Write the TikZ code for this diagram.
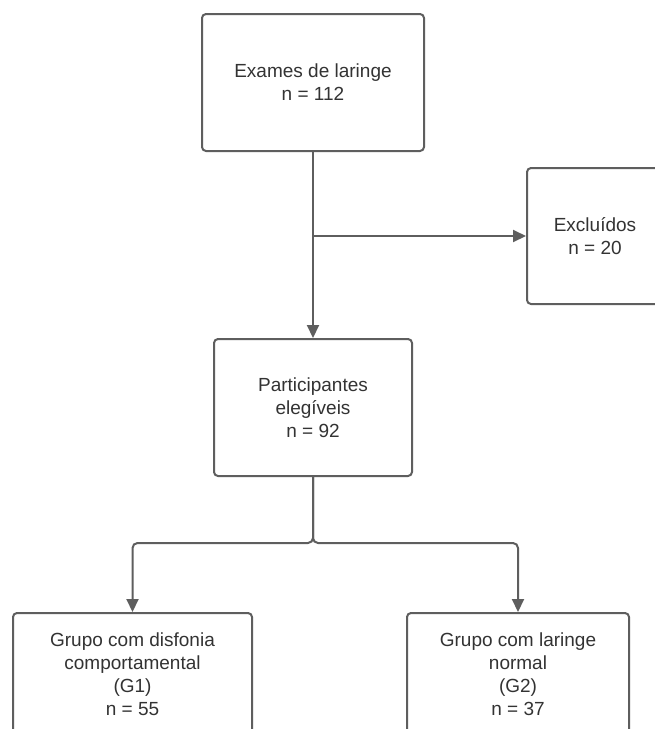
\documentclass[tikz,border=0pt]{standalone}
\usepackage{fontspec}
\setmainfont{Liberation Sans}
\usetikzlibrary{arrows.meta}
\definecolor{linegray}{HTML}{5E5E5E}
\definecolor{textgray}{HTML}{333333}
\begin{document}
\begin{tikzpicture}[x=1pt,y=-1pt,
  box/.style={draw=linegray, line width=2pt, rounded corners=4pt, fill=white,
    align=center, text=textgray, inner sep=0pt,
    font=\fontsize{19}{23}\selectfont},
  conn/.style={draw=linegray, line width=2pt},
  arr/.style={conn, -{Triangle[length=13pt,width=12pt]}}]
\useasboundingbox (0,0) rectangle (655,729);
\clip (0,0) rectangle (655,729);
\fill[white] (0,0) rectangle (655,729);
\node[box, minimum width=222pt, minimum height=137pt] (top) at (313,82.5) {Exames de laringe\\n = 112};
\node[box, minimum width=136pt, minimum height=136pt] (excl) at (595,236) {Excluídos\\n = 20};
\node[box, minimum width=198pt, minimum height=137pt] (part) at (313,407.5) {Participantes\\elegíveis\\n = 92};
\node[box, minimum width=239pt, minimum height=122pt] (g1) at (132.5,674) {Grupo com disfonia\\comportamental\\(G1)\\n = 55};
\node[box, minimum width=222pt, minimum height=122pt] (g2) at (518,674) {Grupo com laringe\\normal\\(G2)\\n = 37};
\coordinate (j1) at (313,236);
\coordinate (b) at (313,543);
\draw[arr] (top.south) -- (part.north);
\draw[arr] (j1) -- (excl.west);
\draw[arr, rounded corners=5pt] (part.south) -- (b) -| (g1.north);
\draw[arr, rounded corners=5pt] (part.south) -- (b) -| (g2.north);
\end{tikzpicture}
\end{document}
